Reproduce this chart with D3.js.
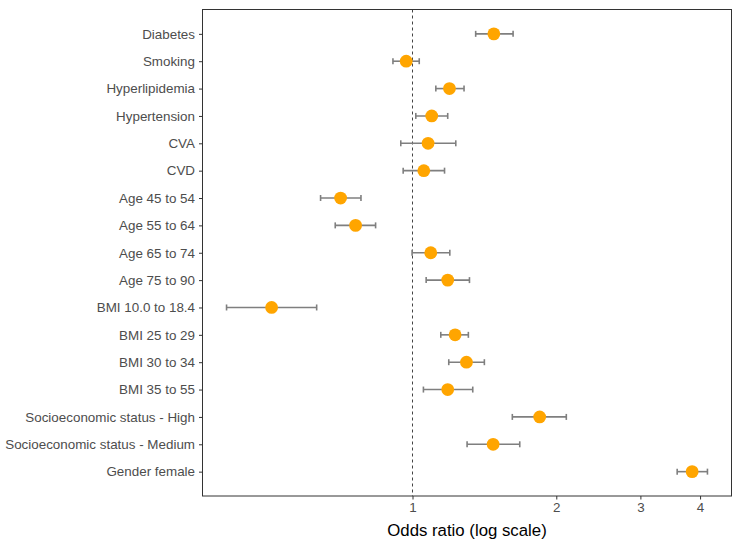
<!DOCTYPE html>
<html><head><meta charset="utf-8">
<script src="https://cdn.jsdelivr.net/npm/d3@7"></script>
<style>body{margin:0;background:#fff}svg{display:block}</style>
</head><body>
<svg id="chart" width="739" height="544"></svg>
<script>
const categories = ["Diabetes","Smoking","Hyperlipidemia","Hypertension","CVA","CVD","Age 45 to 54","Age 55 to 64","Age 65 to 74","Age 75 to 90","BMI 10.0 to 18.4","BMI 25 to 29","BMI 30 to 34","BMI 35 to 55","Socioeconomic status - High","Socioeconomic status - Medium","Gender female"];
const oddsRatio = [1.48,0.97,1.195,1.097,1.078,1.056,0.707,0.760,1.092,1.185,0.507,1.228,1.297,1.185,1.846,1.475,3.85];
const lower = [1.356,0.910,1.119,1.016,0.945,0.956,0.642,0.689,0.998,1.068,0.408,1.146,1.191,1.054,1.618,1.301,3.582];
const upper = [1.624,1.033,1.282,1.185,1.232,1.167,0.780,0.837,1.197,1.316,0.630,1.309,1.414,1.337,2.099,1.677,4.145];
const xTicks = [1,2,3,4];

const svg = d3.select("#chart");
const m = {left:202.5, right:7.5, top:9.5, bottom:48};
const W = 739, H = 544;
const pw = W - m.left - m.right, ph = H - m.top - m.bottom;
const g = svg.append("g").attr("transform",`translate(${m.left},${m.top})`);

const lo = d3.min(lower), hi = d3.max(upper);
const lr = Math.log(hi) - Math.log(lo);
const x = d3.scaleLog().domain([Math.exp(Math.log(lo)-0.05*lr), Math.exp(Math.log(hi)+0.05*lr)]).range([0,pw]);
const y = d3.scalePoint().domain(categories).range([0,ph]).padding(0.89);

// reference line
g.append("line").attr("x1",x(1)).attr("x2",x(1)).attr("y1",0).attr("y2",ph)
  .attr("stroke","#444").attr("stroke-width",1).attr("stroke-dasharray","3,3");

const data = categories.map((c,i)=>({c,or:oddsRatio[i],lo:lower[i],hi:upper[i]}));
const eb = g.append("g").selectAll("g").data(data).join("g").attr("stroke","#7f7f7f").attr("stroke-width",1.6);
eb.append("line").attr("x1",d=>x(d.lo)).attr("x2",d=>x(d.hi)).attr("y1",d=>y(d.c)).attr("y2",d=>y(d.c));
eb.append("line").attr("x1",d=>x(d.lo)).attr("x2",d=>x(d.lo)).attr("y1",d=>y(d.c)-3).attr("y2",d=>y(d.c)+3);
eb.append("line").attr("x1",d=>x(d.hi)).attr("x2",d=>x(d.hi)).attr("y1",d=>y(d.c)-3).attr("y2",d=>y(d.c)+3);

g.append("g").selectAll("circle").data(data).join("circle")
  .attr("cx",d=>x(d.or)).attr("cy",d=>y(d.c)).attr("r",6.4).attr("fill","#FFA500");

// panel border
g.append("rect").attr("x",0).attr("y",0).attr("width",pw).attr("height",ph)
  .attr("fill","none").attr("stroke","#333").attr("stroke-width",1);

// axes
const xa = g.append("g").attr("transform",`translate(0,${ph})`)
  .call(d3.axisBottom(x).tickValues(xTicks).tickFormat(d3.format("d")).tickSize(3.5).tickPadding(3));
const ya = g.append("g").call(d3.axisLeft(y).tickSize(3.5).tickPadding(4));
[xa,ya].forEach(a=>{
  a.select(".domain").remove();
  a.selectAll(".tick line").attr("stroke","#333").attr("stroke-width",1);
  a.selectAll(".tick text").attr("fill","#4d4d4d").style("font-family","Liberation Sans, Arial, sans-serif").style("font-size","13.4px");
});

svg.append("text").attr("x",m.left+pw/2).attr("y",536).attr("text-anchor","middle")
  .style("font-family","Liberation Sans, Arial, sans-serif").style("font-size","16.8px").attr("fill","#000")
  .text("Odds ratio (log scale)");
</script>
</body></html>
